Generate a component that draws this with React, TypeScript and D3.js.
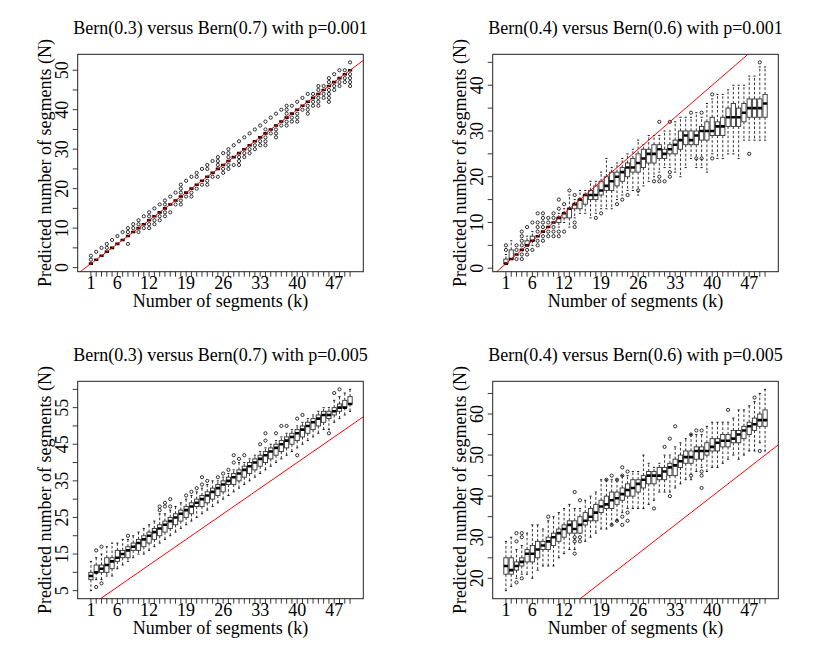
import React from "react";
import * as d3 from "d3";

// ---------- categories & labels ----------
const kValues = [1,2,3,4,5,6,7,8,9,10,11,12,13,14,15,16,17,18,19,20,21,22,23,24,25,26,27,28,29,30,31,32,33,34,35,36,37,38,39,40,41,42,43,44,45,46,47,48,49,50];
const xTickLabels = [1, 6, 12, 19, 26, 33, 40, 47];
const titles = [
  "Bern(0.3) versus Bern(0.7) with p=0.001",
  "Bern(0.4) versus Bern(0.6) with p=0.001",
  "Bern(0.3) versus Bern(0.7) with p=0.005",
  "Bern(0.4) versus Bern(0.6) with p=0.005",
];
const xAxisTitle = "Number of segments (k)";
const yAxisTitle = "Predicted number of segments (N)";

// ---------- panel 1 ----------
const p1Med = [1,2,3,4,5,6,7,8,9,10,11,12,13,14,15,16,17,18,19,20,21,22,23,24,25,26,27,28,29,30,31,32,33,34,35,36,37,38,39,40,41,42,43,44,45,46,47,48,49,50];
const p1Q1  = [1,2,3,4,5,6,7,8,9,10,11,12,13,14,15,16,17,18,19,20,21,22,23,24,25,26,27,28,29,30,31,32,33,34,35,36,37,38,39,40,41,42,43,44,45,46,47,48,49,50];
const p1Q3  = [1,2,3,4,5,6,7,8,9,10,11,12,13,14,15,16,17,18,19,20,21,22,23,24,25,26,27,28,29,30,31,32,33,34,35,36,37,38,39,40,41,42,43,44,45,46,47,48,49,50];
const p1Lo  = [1,2,3,4,5,6,7,8,9,10,11,12,13,14,15,16,17,18,19,20,21,22,23,24,25,26,27,28,29,30,31,32,33,34,35,36,37,38,39,40,41,42,43,44,45,46,47,48,49,50];
const p1Hi  = [1,2,3,4,5,6,7,8,9,10,11,12,13,14,15,16,17,18,19,20,21,22,23,24,25,26,27,28,29,30,31,32,33,34,35,36,37,38,39,40,41,42,43,44,45,46,47,48,49,50];
const p1Out = [
  [2,3],[4],[5],[5,6],[7],[8],[9],[6,9,10],[10,11],[9,11,12],
  [10,13],[10,11,13,14],[11,12,15],[12,13,16],[13,14,16,17],[14,18],[16,19],[16,17,19,20,21],[18,22],[18,19,23],
  [20,23,24],[21,25],[21,22,25,26],[23,27],[23,26,27,28],[24,25,29],[25,26,28,29,30],[26,31],[26,27,28,32],[28,29,33],
  [29,30,34],[30,31,35],[31,32,36],[31,32,33,35,37],[34,38],[33,34,35,39],[36,40],[36,37,39,40,41],[37,38,41],[37,38,39,42],
  [40,43],[39,40,41,44],[41,42,44],[41,42,43,45,46],[43,44,46],[42,43,44,45,47,48],[45,46,49],[46,47,50],[47,48,50],[46,47,48,49,52],
];
const p1YTicks = [0,5,10,15,20,25,30,35,40,45,50];
const p1YLabels = [0,10,20,30,40,50];

// ---------- panel 2 ----------
const p2Med = [1,2,3,4,5,6,7,8,9,10,11,12,13,14,15,16,16,16,17,18,19,20,21,22,22,23,24,25,25,26,25,26,27,28,29,28,29,30,30,30,31,31,33,33,33,34,35,35,35,36];
const p2Q1  = [1,2,3,4,5,6,7,8,9,10,10,11,11,13,13,14,15,15,16,17,17,18,19,20,21,21,22,23,23,24,24,25,25,26,27,27,27,28,28,29,29,29,31,31,31,32,33,33,33,33];
const p2Q3  = [2,4,3,4,6,7,7,8,9,10,11,12,13,14,15,16,17,18,19,20,21,21,22,23,24,25,26,26,27,27,26,27,28,30,30,30,30,31,32,33,32,33,35,36,35,36,37,37,37,38];
const p2Lo  = [1,2,3,4,5,5,7,8,9,10,9,10,9,11,12,12,11,12,13,13,13,15,16,17,17,16,18,19,20,21,22,22,21,20,22,24,22,22,21,25,24,24,25,25,24,28,28,28,28,28];
const p2Hi  = [3,6,3,4,7,8,7,8,9,10,12,13,16,15,17,17,19,19,21,24,22,23,24,25,26,28,27,29,29,29,30,30,32,33,33,33,34,33,36,37,38,38,39,40,40,40,42,42,44,44];
const p2Out = [
  [4,5],[],[2,4,5],[2,3,5,6,7,8],[3,4,9],[4,10],[5,6,8,9,10,12],[6,7,9,10,11,12],[7,8,10,11],[7,8,9,11,12],
  [7,8,13,15],[8,14],[17],[9,10,16],[],[],[],[11],[12],[],
  [],[14],[15],[16],[],[17],[],[],[19],[32,19,20],
  [19],[32,20,21],[],[],[],[34],[24],[34,24],[],[38,24],
  [],[],[],[],[],[],[25],[],[45],[],
];
const p2YTicks = [0,5,10,15,20,25,30,35,40,45];
const p2YLabels = [0,10,20,30,40];

// ---------- panel 3 ----------
const p3Med = [9,10,11,12,13,14,15,16,17,18,19,20,21,22,23,24,25,26,27,28,29,30,31,32,33,34,35,36,37,38,39,40,41,42,43,44,45,46,47,48,49,50,51,52,53,53,54,55,55,56];
const p3Q1  = [8,10,10,10,11,13,14,14,16,16,17,18,19,20,21,22,23,24,25,26,28,28,29,30,31,32,34,34,35,36,37,38,39,40,41,42,43,44,45,46,47,48,49,50,51,52,53,54,55,56];
const p3Q3  = [10,12,12,14,14,16,16,17,18,19,20,21,22,23,24,25,26,27,28,29,30,31,32,33,34,35,36,37,38,39,40,41,42,43,44,45,46,47,48,49,50,51,52,53,54,54,55,56,57,58];
const p3Lo  = [5,8,8,9,9,11,12,13,14,15,15,16,17,18,19,20,21,22,23,24,25,26,27,28,29,30,31,32,33,34,35,36,37,38,39,40,41,42,43,44,45,46,47,48,49,49,51,52,53,54];
const p3Hi  = [13,14,15,17,18,18,19,19,20,21,22,23,24,26,26,27,28,29,30,31,32,33,34,35,35,36,37,38,40,40,41,42,43,44,45,46,47,48,49,50,51,52,53,54,55,55,57,58,59,60];
const p3Out = [
  [],[16,6],[17,7],[],[],[],[],[20],[],[],
  [],[],[],[28,27],[29,28],[30,28],[],[],[31],[32],
  [33],[36,34],[35],[],[36],[37],[38],[42,40],[41],[42],
  [],[],[45],[46,48],[],[48],[50],[50],[],[52,42],
  [53],[],[],[],[],[48],[59],[60],[],[],
];
const p3YTicks = [5,10,15,20,25,30,35,40,45,50,55,60];
const p3YLabels = [5,15,25,35,45,55];

// ---------- panel 4 ----------
const p4Med = [23,22,23,24,26,26,27,28,29,30,31,32,33,32,33,34,35,36,37.5,38,39,39.5,40.5,41.5,42,43,44,45,45,45,46,47,47.5,48.5,49.5,49.5,51,51,51,52,53,53.5,53.5,54,55,56,57,57.5,58.5,58.5];
const p4Q1  = [21,21,22,23,24,24,25,27,27,28,29,30,31,31,31,33,34,34,36,37,37,38,39,40,40,41,42,43,43,44,44,45,45,47,48,48,49,49,50,51,51,52,52,53,53,54,55,56,57,57];
const p4Q3  = [25,25,24,25,27,28,29,29,30,31,32,33,34,34,35,36,37,38,39,40,41,41,42,43,44,44,45,46,46,47,47,48,49,50,51,51,52,52,53,54,54,55,55,56,56,57,58,59,60,61];
const p4Lo  = [17,18,20,21,21,20,22,23,23,23,25,26,27,27,31,29,30,31,32,32,33,34,36,37,37,37,37,38,39,41,41,41,42,43,44,44,46,47,46,47,47,48,49,50,49,50,51,51,53,51];
const p4Hi  = [29,30,27,28,31,33,33,32,34,35,36,37,38,37,37,39,40,41,44,44,44,44,45,45,46,46,50,48,47,48,50,50,52,53,54,55,55,55,57,58,58,58,58,59,61,61,62,63,65,66];
const p4Out = [
  [],[],[31,29,19],[31,30,20],[],[],[],[],[35],[],
  [],[],[],[41,30,29,26],[39,30,29],[],[],[],[],[44],
  [45,33],[44,34],[47,45,35,33],[46,36,34],[],[],[],[],[37],[],
  [52],[54,40],[57],[],[],[55,45],[56],[56,46,45,42],[],[],
  [],[],[61],[],[],[],[],[64],[51],[],
];
const p4YTicks = [20,25,30,35,40,45,50,55,60,65];
const p4YLabels = [20,30,40,50,60];

// ---------- layout ----------
const PW = 415, PH = 327;
const PL = 77.7, PR = 363.3, PT = 54.3, PB = 271.7;
const FONT = "'Liberation Serif', 'Times New Roman', Times, serif";

type PanelProps = {
  id: string; ox: number; oy: number; title: string;
  med: number[]; q1: number[]; q3: number[]; lo: number[]; hi: number[]; out: number[][];
  yTicks: number[]; yLabels: number[];
};

function Panel(p: PanelProps) {
  const allVals = [...p.lo, ...p.hi, ...p.med, ...p.out.flat()];
  const mn = d3.min(allVals) as number;
  const mx = d3.max(allVals) as number;
  const pad = (mx - mn) * 0.04;
  const y = d3.scaleLinear().domain([mn - pad, mx + pad]).range([PB, PT]);
  const n = kValues.length;
  const xPad = n * 0.04;
  const x = d3.scaleLinear().domain([0.5 - xPad, n + 0.5 + xPad]).range([PL, PR]);
  const bw = x(0.4) - x(0);
  const sw = x(0.2) - x(0);
  const [xd0, xd1] = x.domain();
  return (
    <g transform={`translate(${p.ox},${p.oy})`}>
      <defs>
        <clipPath id={p.id}>
          <rect x={PL} y={PT} width={PR - PL} height={PB - PT} />
        </clipPath>
      </defs>
      <text x={(PL + PR) / 2} y={33.5} textAnchor="middle" fontSize={18} fontFamily={FONT} fill="#000">{p.title}</text>
      <g clipPath={`url(#${p.id})`}>
        {kValues.map((k, i) => {
          const cx = x(k);
          return (
            <g key={k}>
              <line x1={cx} x2={cx} y1={y(p.q3[i])} y2={y(p.hi[i])} stroke="#000" strokeWidth={0.8} strokeDasharray="2.6,2" />
              <line x1={cx} x2={cx} y1={y(p.q1[i])} y2={y(p.lo[i])} stroke="#000" strokeWidth={0.8} strokeDasharray="2.6,2" />
              <line x1={cx - sw} x2={cx + sw} y1={y(p.hi[i])} y2={y(p.hi[i])} stroke="#000" strokeWidth={0.9} />
              <line x1={cx - sw} x2={cx + sw} y1={y(p.lo[i])} y2={y(p.lo[i])} stroke="#000" strokeWidth={0.9} />
              <rect x={cx - bw} y={y(p.q3[i])} width={2 * bw} height={Math.max(0, y(p.q1[i]) - y(p.q3[i]))} fill="#fff" stroke="#333" strokeWidth={0.9} />
              <line x1={cx - bw} x2={cx + bw} y1={y(p.med[i])} y2={y(p.med[i])} stroke="#000" strokeWidth={2.6} />
              {p.out[i].map((v, j) => (
                <circle key={j} cx={cx} cy={y(v)} r={1.6} fill="none" stroke="#000" strokeWidth={0.8} />
              ))}
            </g>
          );
        })}
        <line x1={x(xd0)} y1={y(xd0)} x2={x(xd1)} y2={y(xd1)} stroke="#ff0000" strokeWidth={1} />
      </g>
      <rect x={PL} y={PT} width={PR - PL} height={PB - PT} fill="none" stroke="#222" strokeWidth={1} />
      {/* x axis */}
      {kValues.map((k) => (
        <line key={k} x1={x(k)} x2={x(k)} y1={PB} y2={PB + 5} stroke="#222" strokeWidth={0.9} />
      ))}
      {xTickLabels.map((k) => (
        <text key={k} x={x(k)} y={PB + 16.8} textAnchor="middle" fontSize={18} fontFamily={FONT} fill="#000">{k}</text>
      ))}
      <text x={(PL + PR) / 2} y={307} textAnchor="middle" fontSize={18} fontFamily={FONT} fill="#000">{xAxisTitle}</text>
      {/* y axis */}
      {p.yTicks.map((v) => (
        <line key={v} x1={PL - 5} x2={PL} y1={y(v)} y2={y(v)} stroke="#222" strokeWidth={0.9} />
      ))}
      {p.yLabels.map((v) => (
        <text key={v} transform={`translate(68.3,${y(v)}) rotate(-90)`} textAnchor="middle" fontSize={18} fontFamily={FONT} fill="#000">{v}</text>
      ))}
      <text transform={`translate(50.5,${(PT + PB) / 2}) rotate(-90)`} textAnchor="middle" fontSize={18} fontFamily={FONT} fill="#000">{yAxisTitle}</text>
    </g>
  );
}

export default function App() {
  return (
    <svg width={830} height={654} style={{ position: "absolute", left: 0, top: 0, background: "#fff" }}>
      <rect x={0} y={0} width={830} height={654} fill="#fff" />
      <Panel id="c1" ox={0} oy={0} title={titles[0]} med={p1Med} q1={p1Q1} q3={p1Q3} lo={p1Lo} hi={p1Hi} out={p1Out} yTicks={p1YTicks} yLabels={p1YLabels} />
      <Panel id="c2" ox={PW} oy={0} title={titles[1]} med={p2Med} q1={p2Q1} q3={p2Q3} lo={p2Lo} hi={p2Hi} out={p2Out} yTicks={p2YTicks} yLabels={p2YLabels} />
      <Panel id="c3" ox={0} oy={PH} title={titles[2]} med={p3Med} q1={p3Q1} q3={p3Q3} lo={p3Lo} hi={p3Hi} out={p3Out} yTicks={p3YTicks} yLabels={p3YLabels} />
      <Panel id="c4" ox={PW} oy={PH} title={titles[3]} med={p4Med} q1={p4Q1} q3={p4Q3} lo={p4Lo} hi={p4Hi} out={p4Out} yTicks={p4YTicks} yLabels={p4YLabels} />
    </svg>
  );
}
